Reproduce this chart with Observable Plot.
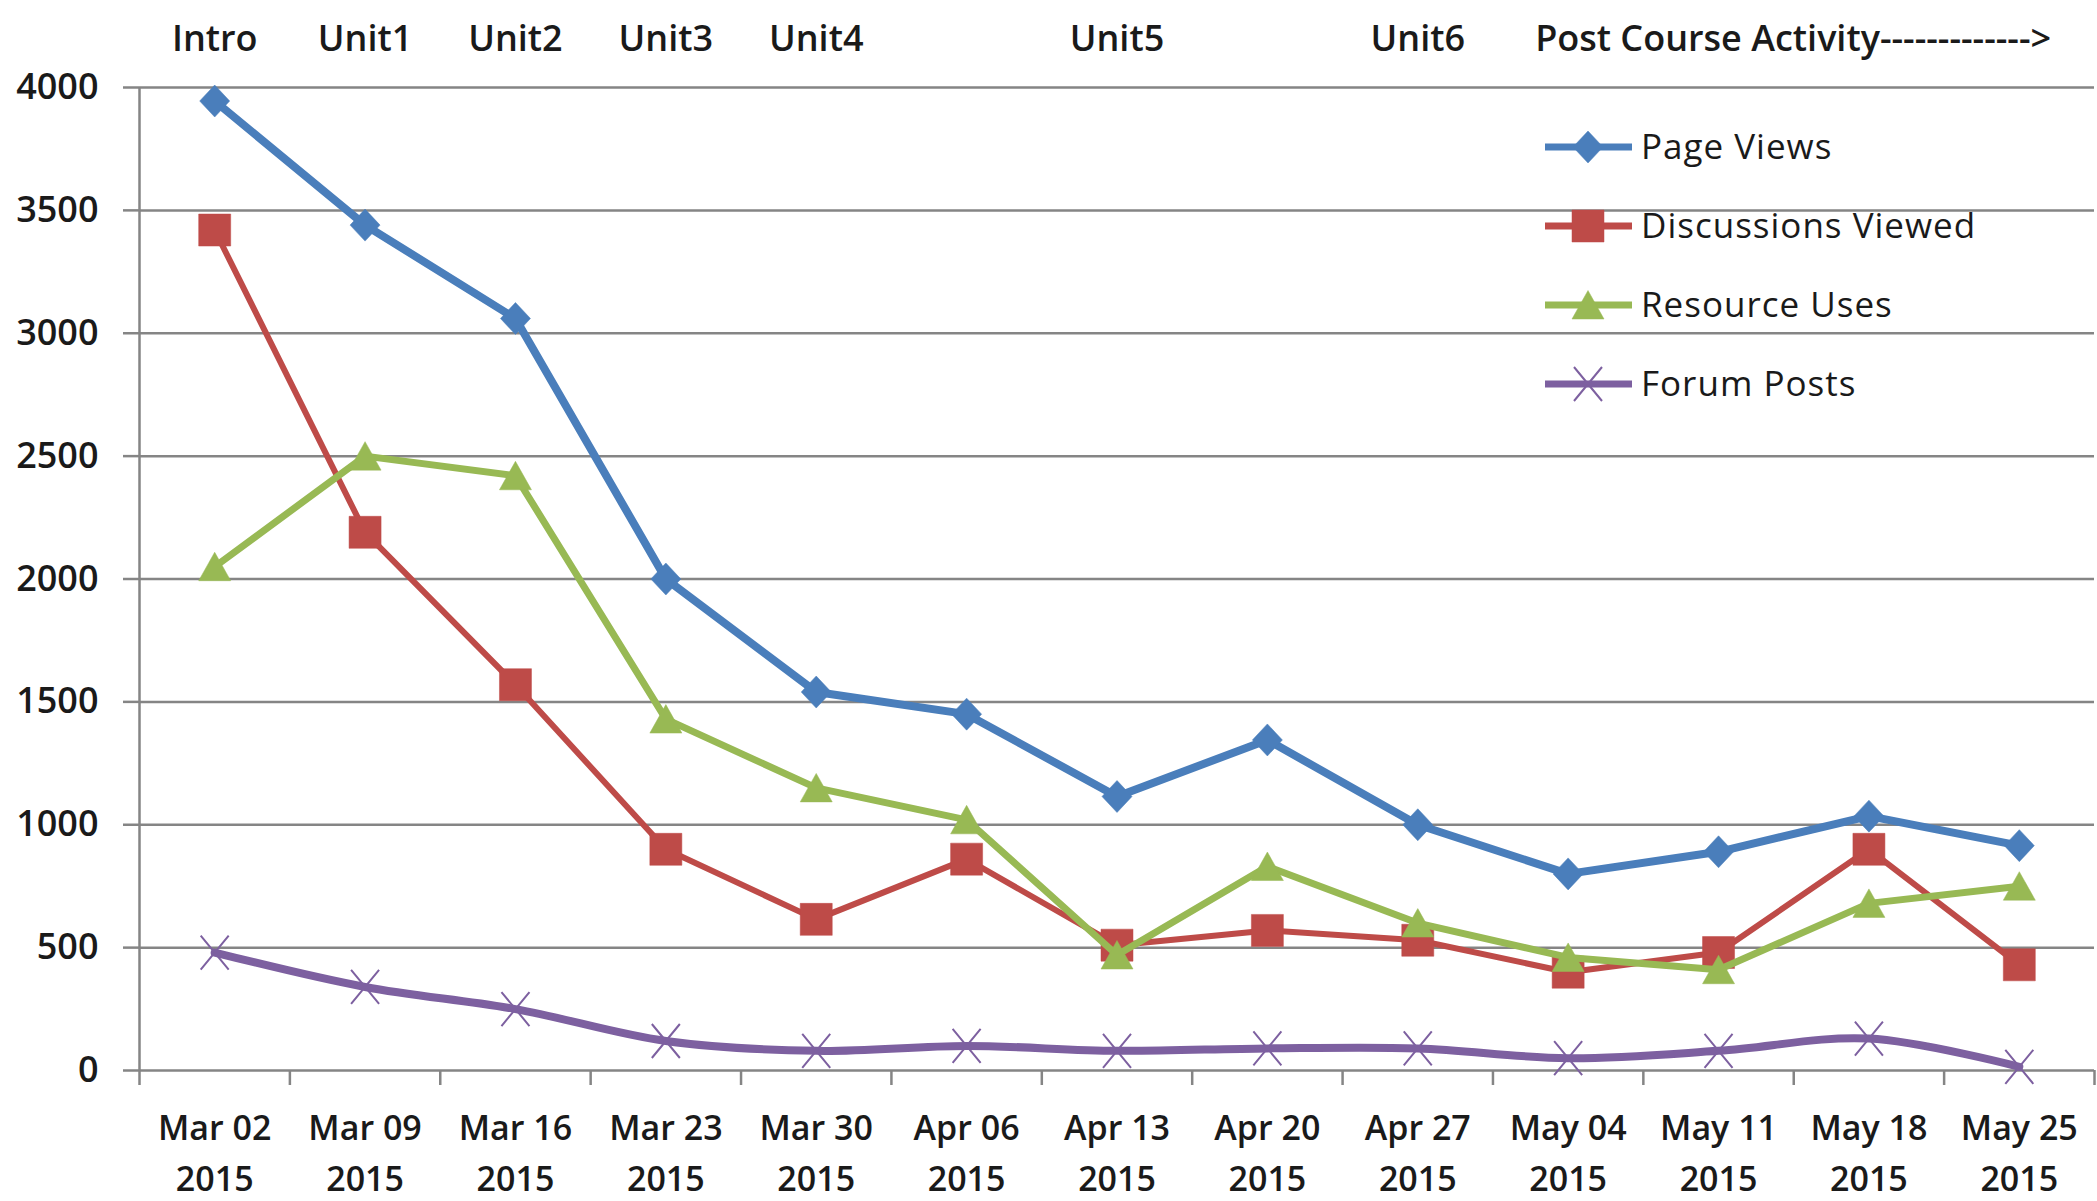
<!DOCTYPE html>
<html><head><meta charset="utf-8">
<script src="https://cdn.jsdelivr.net/npm/d3@7"></script>
<script src="https://cdn.jsdelivr.net/npm/@observablehq/plot@0.6"></script>
<style>
html,body{margin:0;padding:0;background:#fff;}
#chart{position:relative;width:2097px;height:1201px;}
</style></head><body><div id="chart"></div>
<script>
// ---- data ----
const weeks = ["Mar 02","Mar 09","Mar 16","Mar 23","Mar 30","Apr 06","Apr 13","Apr 20","Apr 27","May 04","May 11","May 18","May 25"];
const year = "2015";
const pageViews         = [3945, 3440, 3060, 2000, 1540, 1450, 1115, 1345, 1000, 800, 890, 1035, 915];
const discussionsViewed = [3420, 2190, 1570,  900,  615,  860,  510,  570,  530, 400, 480,  900, 430];
const resourceUses      = [2050, 2500, 2420, 1430, 1150, 1020,  470,  830,  600, 460, 410,  680, 750];
const forumPosts        = [ 480,  340,  250,  120,   80,  100,   80,   90,   90,  50,  80,  130,  15];
const seriesNames  = ["Page Views","Discussions Viewed","Resource Uses","Forum Posts"];
const seriesColors = ["#4a7ebb","#be4b48","#98b954","#7d60a0"];
const yTicks = [0,500,1000,1500,2000,2500,3000,3500,4000];
const unitLabels = ["Intro","Unit1","Unit2","Unit3","Unit4","Unit5","Unit6"];
const unitWeeks  = [0,1,2,3,4,6,8];
const postCourseLabel = "Post Course Activity------------->";
const postCourseWeek = 9;

// ---- build ----
const seriesValues = [pageViews, discussionsViewed, resourceUses, forumPosts];
const rows = seriesValues.flatMap((vals, s) => vals.map((v, i) => ({series: seriesNames[s], s, i, v})));
const idx = weeks.map((_, i) => i);
const bounds = weeks.map((_, i) => i - 0.5).concat([weeks.length - 0.5]);

const symDiamond = {draw(c, size){const r=Math.sqrt(size/Math.PI); c.moveTo(0,-1.6*r); c.lineTo(1.5*r,0); c.lineTo(0,1.6*r); c.lineTo(-1.5*r,0); c.closePath();}};
const symSquare  = {draw(c, size){const r=Math.sqrt(size/Math.PI); c.rect(-1.6*r,-1.6*r,3.2*r,3.2*r);}};
const symTri     = {draw(c, size){const r=Math.sqrt(size/Math.PI); c.moveTo(0,-1.45*r); c.lineTo(1.6*r,1.4*r); c.lineTo(-1.6*r,1.4*r); c.closePath();}};
const symX       = {draw(c, size){const r=Math.sqrt(size/Math.PI); c.moveTo(-1.4*r,-1.7*r); c.lineTo(1.4*r,1.7*r); c.moveTo(-1.4*r,1.7*r); c.lineTo(1.4*r,-1.7*r);}};
const symbols = [symDiamond, symSquare, symTri, symX];
const widths = [8, 6, 7, 8];
const curves = ["linear","linear","linear","catmull-rom"];

const font = "'Open Sans', 'Liberation Sans', sans-serif";
const axisColor = "#858585";
const textColor = "#1a1a1a";

const seriesMarks = seriesNames.flatMap((name, s) => {
  const data = rows.filter(d => d.s === s);
  return [
    Plot.line(data, {x: "i", y: "v", stroke: seriesColors[s], strokeWidth: widths[s], curve: curves[s], strokeLinejoin: "round"}),
    Plot.dot(data, {x: "i", y: "v", r: 10, symbol: () => symbols[s],
      fill: s === 3 ? "none" : seriesColors[s],
      stroke: seriesColors[s], strokeWidth: s === 3 ? 2 : 0.5})
  ];
});

const plot = Plot.plot({
  width: 2097, height: 1201,
  marginTop: 87, marginBottom: 131, marginLeft: 139, marginRight: 3,
  style: {fontFamily: font, background: "white", overflow: "visible"},
  x: {type: "linear", domain: [-0.5, weeks.length - 0.5], axis: null},
  y: {domain: [0, 4000], axis: null},
  symbol: {type: "identity"},
  marks: [
    Plot.gridY(yTicks, {stroke: axisColor, strokeWidth: 2.5, strokeOpacity: 1}),
    Plot.axisY(yTicks, {label: null, tickSize: 16, tickPadding: 25, stroke: axisColor, strokeWidth: 2.5, fontSize: 36, fontWeight: 600, fill: textColor, tickFormat: d => String(d)}),
    Plot.ruleX([-0.5], {y1: 0, y2: 4000, stroke: axisColor, strokeWidth: 2.5}),
    Plot.axisX(bounds, {label: null, tickSize: 15, stroke: axisColor, strokeWidth: 2.5, tickFormat: () => ""}),
    Plot.axisX(idx, {label: null, tickSize: 0, tickPadding: 33, fontSize: 34, fontWeight: 600, fill: textColor, lineHeight: 1.5, tickFormat: i => weeks[i] + "\n" + year}),
    ...seriesMarks,
    Plot.text(unitLabels, {x: (d, i) => unitWeeks[i], frameAnchor: "top", dy: -62, text: d => d, fontSize: 36, fontWeight: 600, fill: textColor}),
    Plot.text([postCourseLabel], {x: () => postCourseWeek, frameAnchor: "top", dy: -62, dx: -33, textAnchor: "start", text: d => d, fontSize: 36, fontWeight: 600, fill: textColor})
  ]
});

// ---- legend (inside plot, top-right) ----
const svg = d3.select(plot);
const lg = svg.append("g").attr("font-family", font).attr("font-size", 35).attr("letter-spacing", "1px").attr("text-anchor", "start");
seriesNames.forEach((name, s) => {
  const y = 147 + s * 79;
  const g = lg.append("g");
  g.append("line").attr("x1", 1545).attr("x2", 1632).attr("y1", y).attr("y2", y)
    .attr("stroke", seriesColors[s]).attr("stroke-width", 7);
  g.append("path").attr("transform", `translate(1588,${y})`)
    .attr("d", d3.symbol(symbols[s], Math.PI * 100)())
    .attr("fill", s === 3 ? "none" : seriesColors[s])
    .attr("stroke", seriesColors[s]).attr("stroke-width", s === 3 ? 2 : 0.5);
  g.append("text").attr("x", 1641).attr("y", y).attr("dy", "0.35em").attr("fill", textColor).text(name);
});

document.getElementById("chart").appendChild(plot);
</script>
</body></html>
